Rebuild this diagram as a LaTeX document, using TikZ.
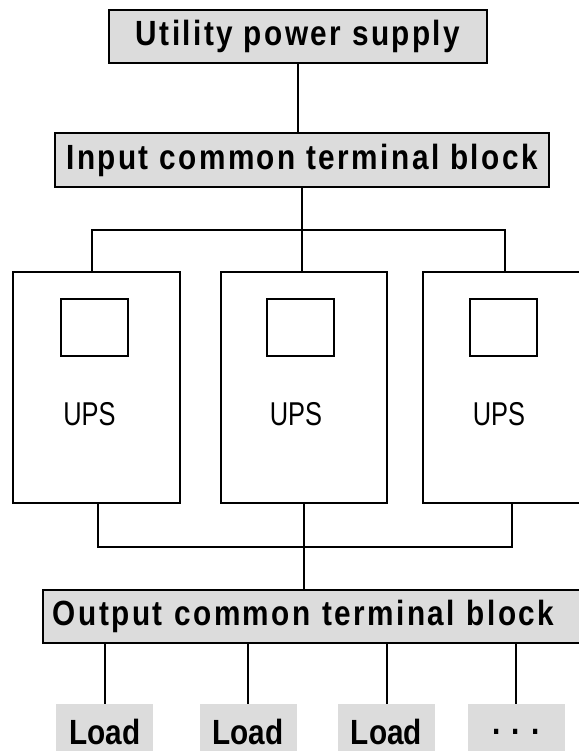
\documentclass[tikz,border=0pt]{standalone}
\usepackage{fontspec}
\setmainfont{Liberation Sans}
\newfontfamily\titlefont{Liberation Sans}[FakeStretch=0.85,LetterSpace=7]
\newfontfamily\loadfont{Liberation Sans}[FakeStretch=0.85]
\newfontfamily\upsfont{Liberation Sans}[FakeStretch=0.77]
\definecolor{blockgray}{RGB}{220,220,220}
\begin{document}
\begin{tikzpicture}[x=0.5pt,y=-0.5pt,
    titlebox/.style={draw,line width=0.7pt,fill=blockgray,inner sep=0pt,
      font=\titlefont\bfseries\fontsize{17.5}{19}\selectfont},
    loadbox/.style={fill=blockgray,inner sep=0pt,minimum width=48.5pt,minimum height=28pt,
      font=\loadfont\bfseries\fontsize{17.5}{19}\selectfont},
    upsbox/.style={draw,line width=1pt,inner sep=0pt,minimum height=115.5pt},
    screen/.style={draw,line width=1pt,inner sep=0pt,minimum width=33.5pt,minimum height=28.5pt},
    upslabel/.style={inner sep=0pt,font=\upsfont\fontsize{16.5}{18}\selectfont},
    wire/.style={line width=1pt}]
  \useasboundingbox (0,0) rectangle (579,751);
  \fill[white] (0,0) rectangle (579,751);
  % supply and input block
  \node (util) at (298,36.5) [titlebox,minimum width=189pt,minimum height=26.5pt] {Utility power supply};
  \node (inblk) at (302,160) [titlebox,minimum width=247pt,minimum height=27pt] {Input common terminal block};
  % UPS cabinets
  \node (ups1) at (96.5,387.5) [upsbox,minimum width=83.5pt] {};
  \node (ups2) at (304,387.5) [upsbox,minimum width=83pt] {};
  \node (ups3) at (507,387.5) [upsbox,minimum width=84pt] {};
  \node (scr1) at (94,327.5) [screen] {};
  \node (scr2) at (300.5,327.5) [screen] {};
  \node (scr3) at (503.5,327.5) [screen] {};
  \node (txt1) at (89.5,414.5) [upslabel] {UPS};
  \node (txt2) at (296,414.5) [upslabel] {UPS};
  \node (txt3) at (499,414.5) [upslabel] {UPS};
  % output block and loads
  \node (outblk) at (321.5,616.5) [titlebox,minimum width=278.5pt,minimum height=26.5pt,
    text width=268.5pt,align=left] {Output common terminal block};
  \node (ld1) at (104.75,732) [loadbox] {Load};
  \node (ld2) at (248,732) [loadbox] {Load};
  \node (ld3) at (386.5,732) [loadbox] {Load};
  \node (ld4) at (516,732) [loadbox] {. . .};
  \coordinate (tbus1) at (92,230);
  \coordinate (tbus3) at (505,230);
  \coordinate (bbus1) at (98,547);
  \coordinate (bbus3) at (512,547);
  % wiring
  \draw[wire] (util.south) -- (util.south |- inblk.north);
  \draw[wire] (inblk.south) -- (inblk.south |- ups2.north);
  \draw[wire] (tbus1 |- ups1.north) -- (tbus1) -- (tbus3) -- (tbus3 |- ups3.north);
  \draw[wire] (bbus1 |- ups1.south) -- (bbus1) -- (bbus3) -- (bbus3 |- ups3.south);
  \draw[wire] (ups2.south) -- (ups2.south |- outblk.north);
  \foreach \i in {1,...,4}
    \draw[wire] (ld\i.north) -- (ld\i.north |- outblk.south);
\end{tikzpicture}
\end{document}
